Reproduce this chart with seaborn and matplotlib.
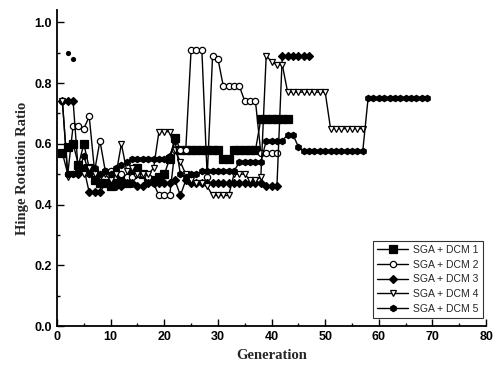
import pandas as pd
import numpy as np
import matplotlib.pyplot as plt
import seaborn as sns

# values (generation starts at 1)
dcm1 = [0.57, 0.59, 0.60, 0.53, 0.60, 0.52, 0.48, 0.47, 0.47, 0.46,
        0.47, 0.48, 0.47, 0.50, 0.52, 0.50, 0.48, 0.48, 0.49, 0.50,
        0.55, 0.62, 0.58, 0.58, 0.58, 0.58, 0.58, 0.58, 0.58, 0.58,
        0.55, 0.55, 0.58, 0.58, 0.58, 0.58, 0.58, 0.68, 0.68, 0.68,
        0.68, 0.68, 0.68]
dcm2 = [0.74, 0.50, 0.66, 0.66, 0.65, 0.69, 0.51, 0.61, 0.51, 0.51,
        0.51, 0.50, 0.49, 0.49, 0.50, 0.50, 0.49, 0.47, 0.43, 0.43,
        0.43, 0.58, 0.58, 0.58, 0.91, 0.91, 0.91, 0.49, 0.89, 0.88,
        0.79, 0.79, 0.79, 0.79, 0.74, 0.74, 0.74, 0.57, 0.57, 0.57,
        0.57]
dcm3 = [0.74, 0.74, 0.74, 0.50, 0.52, 0.44, 0.44, 0.44, 0.47, 0.47,
        0.46, 0.46, 0.47, 0.47, 0.46, 0.46, 0.47, 0.47, 0.47, 0.47,
        0.47, 0.48, 0.43, 0.48, 0.47, 0.47, 0.47, 0.47, 0.47, 0.47,
        0.47, 0.47, 0.47, 0.47, 0.47, 0.47, 0.47, 0.47, 0.46, 0.46,
        0.46, 0.89, 0.89, 0.89, 0.89, 0.89, 0.89]
dcm4 = [0.74, 0.49, 0.50, 0.51, 0.50, 0.52, 0.50, 0.49, 0.50, 0.48,
        0.50, 0.60, 0.51, 0.52, 0.50, 0.50, 0.50, 0.52, 0.64, 0.64,
        0.64, 0.58, 0.54, 0.50, 0.48, 0.47, 0.47, 0.46, 0.43, 0.43,
        0.43, 0.43, 0.50, 0.50, 0.50, 0.48, 0.48, 0.49, 0.89, 0.87,
        0.86, 0.86, 0.77, 0.77, 0.77, 0.77, 0.77, 0.77, 0.77, 0.77,
        0.65, 0.65, 0.65, 0.65, 0.65, 0.65, 0.65]
dcm5 = [0.57, 0.50, 0.50, 0.51, 0.56, 0.50, 0.52, 0.50, 0.51, 0.50,
        0.52, 0.53, 0.54, 0.55, 0.55, 0.55, 0.55, 0.55, 0.55, 0.55,
        0.56, 0.61, 0.50, 0.49, 0.50, 0.50, 0.51, 0.51, 0.51, 0.51,
        0.51, 0.51, 0.51, 0.54, 0.54, 0.54, 0.54, 0.54, 0.61, 0.61,
        0.61, 0.61, 0.63, 0.63, 0.59, 0.575, 0.575, 0.575, 0.575, 0.575,
        0.575, 0.575, 0.575, 0.575, 0.575, 0.575, 0.575, 0.75, 0.75, 0.75,
        0.75, 0.75, 0.75, 0.75, 0.75, 0.75, 0.75, 0.75, 0.75]
# two loose points near the top left
stray_gen = [2, 3]
stray_val = [0.90, 0.88]

labels = ["SGA + DCM 1", "SGA + DCM 2", "SGA + DCM 3", "SGA + DCM 4", "SGA + DCM 5"]
series = [dcm1, dcm2, dcm3, dcm4, dcm5]
markers = ["s", "o", "D", "v", "h"]
faces = ["k", "white", "k", "white", "k"]
sizes = [6, 4.5, 4, 5, 4.5]

sns.set_style("ticks")
plt.rcParams['font.family'] = ['Liberation Sans', 'DejaVu Sans']

fig = plt.figure(figsize=(4.96, 3.74), dpi=100)
ax = fig.add_axes([0.115, 0.128, 0.865, 0.845])

for vals, lab, m, fc, ms in zip(series, labels, markers, faces, sizes):
    gens = np.arange(1, len(vals) + 1)
    sns.lineplot(x=gens, y=vals, marker=m, color='k', mfc=fc, mec='k', mew=0.9,
                 ms=ms, lw=1.0, label=lab, ax=ax)

sns.scatterplot(x=stray_gen, y=stray_val, color='k', s=14, linewidth=0, legend=False, ax=ax)

ax.set_xlim(0, 80)
ax.set_ylim(0, 1.04)
ax.set_xticks(np.arange(0, 81, 10))
ax.set_xticks(np.arange(0, 81, 5), minor=True)
ax.set_yticks(np.arange(0, 1.01, 0.2))
ax.set_yticks(np.arange(0, 1.01, 0.1), minor=True)
ax.set_yticklabels([f"{v:.1f}" for v in np.arange(0, 1.01, 0.2)])
ax.tick_params(direction='in', which='both', labelsize=9, width=1, colors='k')
ax.tick_params(which='major', length=5)
ax.tick_params(which='minor', length=2.5)
for t in ax.get_xticklabels() + ax.get_yticklabels():
    t.set_fontweight('bold')
sns.despine(ax=ax)
for s in ['left', 'bottom']:
    ax.spines[s].set_linewidth(1.3)
    ax.spines[s].set_color('k')

ax.set_xlabel("Generation", family='Liberation Serif', fontweight='bold', fontsize=10.5)
ax.set_ylabel("Hinge Rotation Ratio", family='Liberation Serif', fontweight='bold', fontsize=10.5)

leg = ax.legend(loc='lower right', bbox_to_anchor=(1.005, 0.01), fontsize=7.5, frameon=True,
                fancybox=False, edgecolor='k', handlelength=3.0, labelspacing=0.45,
                borderpad=0.4, handletextpad=0.5)
leg.get_frame().set_linewidth(0.8)

fig.savefig("out.png", dpi=100)
